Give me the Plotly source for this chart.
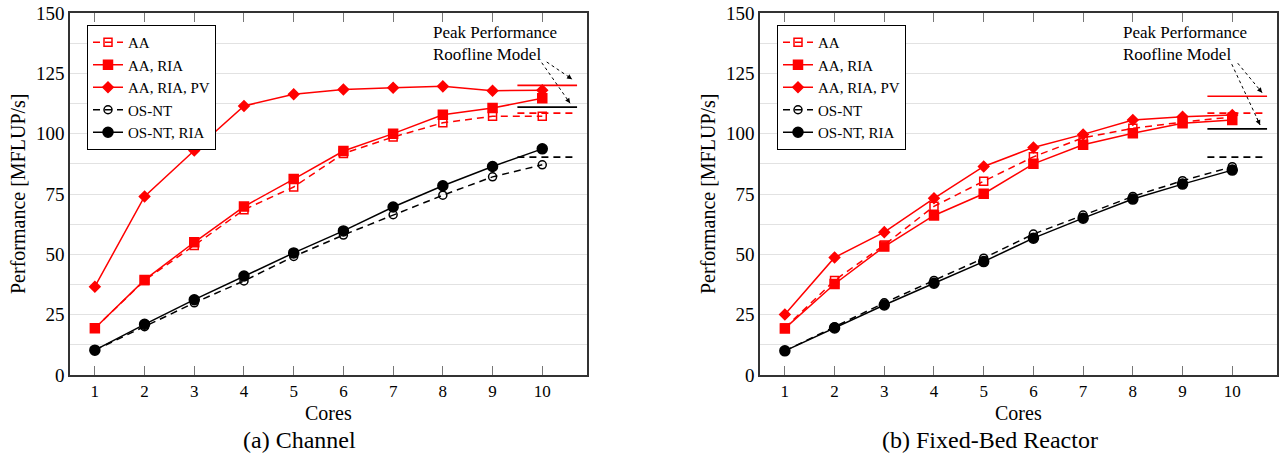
import plotly.graph_objects as go

# ---------------- data ----------------
cores = [1, 2, 3, 4, 5, 6, 7, 8, 9, 10]
series_names = ["AA", "AA, RIA", "AA, RIA, PV", "OS-NT", "OS-NT, RIA"]

channel_aa = [19.4, 39.2, 53.7, 68.5, 77.9, 91.8, 98.6, 104.5, 107.2, 107.2]
channel_aa_ria = [19.4, 39.4, 55.0, 69.8, 81.2, 92.8, 100.0, 107.8, 110.6, 114.7]
channel_aa_ria_pv = [36.6, 74.0, 93.0, 111.5, 116.3, 118.3, 119.0, 119.6, 117.8, 118.0]
channel_osnt = [10.3, 20.0, 29.9, 39.0, 49.1, 58.0, 66.4, 74.5, 82.1, 87.1]
channel_osnt_ria = [10.3, 21.0, 31.2, 41.0, 50.6, 59.7, 69.6, 78.4, 86.4, 93.7]

fbr_aa = [19.5, 39.2, 53.9, 69.9, 80.3, 90.4, 98.3, 102.2, 104.8, 106.9]
fbr_aa_ria = [19.3, 37.7, 53.2, 66.1, 75.1, 87.5, 95.4, 100.2, 104.3, 105.7]
fbr_aa_ria_pv = [25.1, 48.7, 59.2, 73.2, 86.4, 94.3, 99.7, 105.7, 107.0, 107.7]
fbr_osnt = [10.0, 20.0, 29.9, 39.2, 48.4, 58.4, 66.3, 74.0, 80.5, 86.3]
fbr_osnt_ria = [10.0, 19.5, 29.0, 38.0, 47.0, 56.7, 65.0, 72.9, 79.1, 84.9]

# roofline model peaks: [AA (dashed red), AA RIA (solid red), OS-NT (dashed black), OS-NT RIA (solid black)]
roof_channel = [108.5, 120.0, 90.3, 111.0]
roof_fbr = [108.5, 115.5, 90.3, 102.0]

yticks = [0, 25, 50, 75, 100, 125, 150]
captions = ["(a) Channel", "(b) Fixed-Bed Reactor"]
note_text = "Peak Performance<br>Roofline Model"

# ---------------- styling ----------------
RED = "#ff0000"
BLK = "#000000"
FONT = "Liberation Serif"
DASH = "7px,5px"
W = 1282
H = 455

styles = [
    dict(color=RED, dash=DASH, symbol="square-open", size=8),
    dict(color=RED, dash="solid", symbol="square", size=9),
    dict(color=RED, dash="solid", symbol="diamond", size=8),
    dict(color=BLK, dash=DASH, symbol="circle-open", size=8),
    dict(color=BLK, dash="solid", symbol="circle", size=10),
]
roof_styles = [(RED, DASH), (RED, "solid"), (BLK, DASH), (BLK, "solid")]

fig = go.Figure()

panels = [
    dict(xa="x", ya="y", legend="legend",
         data=[channel_aa, channel_aa_ria, channel_aa_ria_pv, channel_osnt, channel_osnt_ria],
         roof=roof_channel,
         arrows=[((10.09, 129.7), (10.60, 122.6)), ((9.99, 129.4), (10.56, 112.6))]),
    dict(xa="x2", ya="y2", legend="legend2",
         data=[fbr_aa, fbr_aa_ria, fbr_aa_ria_pv, fbr_osnt, fbr_osnt_ria],
         roof=roof_fbr,
         arrows=[((10.11, 129.2), (10.60, 117.0)), ((9.99, 128.8), (10.56, 103.6))]),
]

ROOF_X = [9.5, 10.7]

for p in panels:
    # roofline segments
    for val, (c, d) in zip(p["roof"], roof_styles):
        fig.add_trace(go.Scatter(
            x=ROOF_X, y=[val, val], mode="lines", xaxis=p["xa"], yaxis=p["ya"],
            line=dict(color=c, width=1.6, dash=d), showlegend=False, hoverinfo="skip"))
    for name, vals, st in zip(series_names, p["data"], styles):
        fig.add_trace(go.Scatter(
            x=cores, y=vals, name=name, mode="lines+markers",
            xaxis=p["xa"], yaxis=p["ya"], legend=p["legend"],
            line=dict(color=st["color"], width=1.5, dash=st["dash"]),
            marker=dict(symbol=st["symbol"], size=st["size"], color=st["color"],
                        line=dict(color=st["color"], width=1.5))))

# domains (pixel-based)
dom_x1 = [70 / W, 587 / W]
dom_x2 = [760 / W, 1277 / W]
dom_y = [1 - 375 / H, 1 - 13 / H]

axis_common_x = dict(
    range=[0.5, 10.9], tickvals=cores, ticks="inside", ticklen=9, tickwidth=1,
    tickcolor="#777777", showline=True, linecolor="#333333", linewidth=1.5,
    mirror="ticks", showgrid=False, zeroline=False, automargin=False,
    tickfont=dict(family=FONT, size=17, color=BLK))
axis_common_y = dict(
    range=[0, 150], tickvals=yticks, ticks="", showline=True, linecolor="#333333",
    linewidth=1.5, mirror=True, showgrid=True, gridcolor="#e2e2e2", gridwidth=1,
    minor=dict(dtick=12.5, showgrid=True, gridcolor="#e2e2e2", gridwidth=1),
    zeroline=False, automargin=False, tickfont=dict(family=FONT, size=19, color=BLK))

legend_common = dict(
    bgcolor="white", bordercolor=BLK, borderwidth=1, xanchor="left", yanchor="top",
    font=dict(family=FONT, size=15, color=BLK), tracegroupgap=0, itemwidth=30,
    y=1 - 25 / H)

annotations = []
shapes = []
for i, (p, dom, cap) in enumerate(zip(panels, [dom_x1, dom_x2], captions)):
    cx = (dom[0] + dom[1]) / 2
    left_px = dom[0] * W
    # y-axis title
    annotations.append(dict(
        text="Performance [MFLUP/s]", xref="paper", yref="paper",
        x=(left_px - 52) / W, y=1 - 194 / H, textangle=-90, showarrow=False,
        font=dict(family=FONT, size=20, color=BLK), xanchor="center", yanchor="middle"))
    # x-axis title
    annotations.append(dict(
        text="Cores", xref="paper", yref="paper", x=cx, y=1 - 413 / H,
        showarrow=False, font=dict(family=FONT, size=20, color=BLK),
        xanchor="center", yanchor="middle"))
    # caption
    annotations.append(dict(
        text=cap, xref="paper", yref="paper", x=cx - 29 / W, y=1 - 440 / H,
        showarrow=False, font=dict(family=FONT, size=24, color=BLK),
        xanchor="center", yanchor="middle"))
    # note
    annotations.append(dict(
        text=note_text, xref=p["xa"], yref=p["ya"], x=7.77, y=137.4,
        showarrow=False, xanchor="left", yanchor="middle", align="left",
        font=dict(family=FONT, size=17, color=BLK)))
    # dotted arrows
    for (x0, y0), (x1, y1) in p["arrows"]:
        shapes.append(dict(type="line", xref=p["xa"], yref=p["ya"],
                           x0=x0, y0=y0, x1=x1, y1=y1,
                           line=dict(color=BLK, width=1, dash="dot")))
        f = 0.14
        annotations.append(dict(
            text="", xref=p["xa"], yref=p["ya"], x=x1, y=y1,
            axref=p["xa"], ayref=p["ya"], ax=x1 - f * (x1 - x0), ay=y1 - f * (y1 - y0),
            showarrow=True, arrowhead=2, arrowsize=1, arrowwidth=1, arrowcolor=BLK,
            standoff=0))

fig.update_layout(
    width=W, height=H, margin=dict(l=0, r=0, t=0, b=0, autoexpand=False),
    paper_bgcolor="white", plot_bgcolor="white",
    showlegend=True,
    xaxis=dict(domain=dom_x1, anchor="y", **axis_common_x),
    yaxis=dict(domain=dom_y, anchor="x", **axis_common_y),
    xaxis2=dict(domain=dom_x2, anchor="y2", **axis_common_x),
    yaxis2=dict(domain=dom_y, anchor="x2", **axis_common_y),
    legend=dict(x=87 / W, **legend_common),
    legend2=dict(x=777 / W, **legend_common),
    annotations=annotations, shapes=shapes,
    font=dict(family=FONT, color=BLK),
)

fig.write_html("out.html", config={"displayModeBar": False},
               post_script="document.body.style.margin='0';document.body.style.overflow='hidden';")
